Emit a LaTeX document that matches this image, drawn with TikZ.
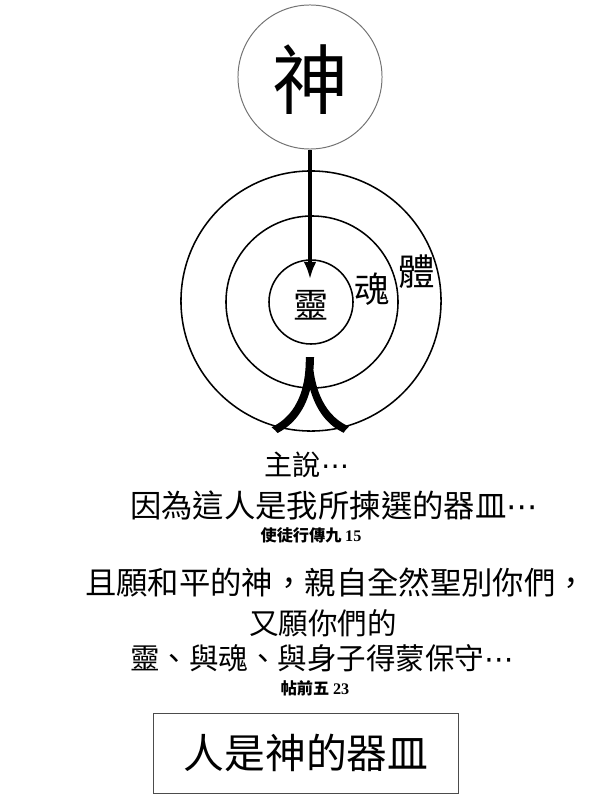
\documentclass[tikz,border=0pt]{standalone}
\usepackage{fontspec}
\setmainfont{Liberation Serif}
\newfontfamily\cjk{Noto Sans CJK TC}
\newfontfamily\cjkfat[FakeBold=1.6]{Noto Sans CJK TC}
\newfontfamily\symb{DejaVu Sans}
\newcommand{\cdotsx}{{\symb ⋯}}
\usetikzlibrary{arrows.meta}
\tikzset{
    ring/.style={circle, draw, line width=1.1pt, inner sep=0pt},
    godring/.style={circle, draw=black!55, line width=0.7pt, inner sep=0pt},
    verse/.style={font=\cjk\fontsize{#1}{#1}\selectfont, inner sep=0pt},
    versref/.style={font=\cjk\bfseries\fontsize{11.5pt}{11.5pt}\selectfont, inner sep=0pt},
    label/.style={font=\cjk\fontsize{#1}{#1}\selectfont, inner sep=0pt},
    downarrow/.style={line width=2.2pt, -{Latex[length=4.3mm,width=3.2mm]}},
}

\begin{document}
\begin{tikzpicture}[x=0.025cm, y=-0.025cm]
\useasboundingbox (0,0) rectangle (601,800);
\node[godring, minimum size=3.6cm] (god) at (310,77) {};
\node[label=54pt] (godtxt) at (310,80) {神};
\node[ring, minimum size=6.5cm] (body) at (311,301) {};
\node[ring, minimum size=4.3cm] (soul) at (312,302) {};
\node[ring, minimum size=2.1cm] (spirit) at (311,302) {};
\coordinate (tip) at (310,279);
\draw[downarrow] (god) -- (tip);

\node[label=25pt] (spirittxt) at (311,305) {靈};
\node[label=25pt] (soultxt) at (372,289) {魂};
\node[label=26pt] (bodytxt) at (417,272) {體};
\node[label=58pt] (man) at (310,395) {\cjkfat 人};

\node[verse=20pt] (said) at (307,465) {主說\cdotsx};
\node[verse=22.3pt] (vessel) at (334,505) {因為這人是我所揀選的器皿\cdotsx};
\node[versref] (acts) at (311,535) {使徒行傳九 \rmfamily 15};
\node[verse=22.3pt] (peace) at (336,582) {且願和平的神，親自全然聖別你們，};
\node[verse=21pt] (also) at (323,623) {又願你們的};
\node[verse=21pt] (keep) at (322,658) {靈、與魂、與身子得蒙保守\cdotsx};
\node[versref] (thess) at (315,688) {帖前五 \rmfamily 23};

\node[draw=black!70, line width=0.7pt, minimum width=7.6cm, minimum height=2cm] (box) at (306,753) {};
\node[label=29pt] (boxtxt) at (306,753) {人是神的器皿};
\end{tikzpicture}
\end{document}
